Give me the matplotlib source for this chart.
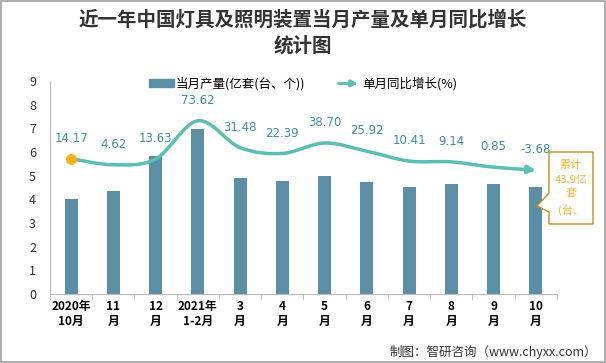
import numpy as np
import matplotlib.pyplot as plt
from matplotlib.path import Path
from matplotlib.patches import FancyArrowPatch, Patch, Rectangle, Polygon
from matplotlib.legend_handler import HandlerBase

plt.rcParams['font.family'] = ['Noto Sans CJK SC', 'DejaVu Sans']

# data
categories = ['2020年\n10月', '11\n月', '12\n月', '2021年\n1-2月', '3\n月', '4\n月',
              '5\n月', '6\n月', '7\n月', '8\n月', '9\n月', '10\n月']
output = [4.03, 4.37, 5.84, 6.97, 4.92, 4.79, 5.00, 4.75, 4.54, 4.66, 4.66, 4.50]
growth = [14.17, 4.62, 13.63, 73.62, 31.48, 22.39, 38.70, 25.92, 10.41, 9.14, 0.85, -3.68]
growth_labels = ['14.17', '4.62', '13.63', '73.62', '31.48', '22.39', '38.70',
                 '25.92', '10.41', '9.14', '0.85', '-3.68']

bar_color = '#5B8FA6'
line_color = '#5CBDB3'
label_color = '#3F8EA3'
W, H = 606, 363


def fx(px):
    return px / W


def fy(py):
    return 1 - py / H


class HandlerArrow(HandlerBase):
    # legend entry drawn as an arrow like the smoothed line
    def create_artists(self, legend, orig_handle, xdescent, ydescent,
                       width, height, fontsize, trans):
        y = height / 2 - ydescent
        p = FancyArrowPatch((-xdescent, y), (width - xdescent, y),
                            arrowstyle='-|>', mutation_scale=9,
                            color=line_color, lw=2.2, transform=trans)
        return [p]


fig = plt.figure(figsize=(6.06, 3.63), dpi=100)
ax = fig.add_axes([0.0825, 0.19, 0.8365, 0.587])
ax2 = ax.twinx()

x = np.arange(len(categories))
ax.bar(x, output, width=0.31, color=bar_color, zorder=2)
ax.set_xlim(-0.5, len(categories) - 0.5)
ax.set_ylim(0, 9)
ax.set_yticks(range(10))
ax.tick_params(axis='y', length=0, labelsize=9, colors='#333333', pad=10)
ax.set_xticks(np.arange(-0.5, len(categories), 1), minor=True)
ax.set_xticks(x)
ax.set_xticklabels(categories, fontsize=8.5, fontweight='bold', linespacing=1.25)
ax.tick_params(axis='x', which='major', length=0, pad=4)
ax.tick_params(axis='x', which='minor', length=4, color='#BBBBBB')
for s in ['top', 'right']:
    ax.spines[s].set_visible(False)
for s in ['left', 'bottom']:
    ax.spines[s].set_color('#BBBBBB')

# secondary axis for growth (hidden)
ax2.set_ylim(-198, 136)
ax2.axis('off')

# smoothed line through the points (Catmull-Rom as cubic Bezier)
pts = np.column_stack([x, growth]).astype(float)
verts = [tuple(pts[0])]
codes = [Path.MOVETO]
n = len(pts)
for i in range(n - 1):
    p0 = pts[max(i - 1, 0)]
    p1 = pts[i]
    p2 = pts[i + 1]
    p3 = pts[min(i + 2, n - 1)]
    c1 = p1 + (p2 - p0) / 6
    c2 = p2 - (p3 - p1) / 6
    verts += [tuple(c1), tuple(c2), tuple(p2)]
    codes += [Path.CURVE4] * 3
arrow = FancyArrowPatch(path=Path(verts, codes), arrowstyle='-|>', mutation_scale=11,
                        color=line_color, lw=2.5, transform=ax2.transData, zorder=3)
ax2.add_patch(arrow)
ax2.plot([x[0]], [growth[0]], 'o', color='#F5B21F', ms=7, zorder=4)

for xi, yi, lab in zip(x, growth, growth_labels):
    ax2.annotate(lab, (xi, yi), xytext=(0, 10), textcoords='offset points',
                 ha='center', va='bottom', fontsize=8.5, color=label_color,
                 family='DejaVu Sans')

# callout box for the last bar, with a notch pointing left at the bar
callout = [(549, 152), (593, 152), (593, 224), (549, 224), (549, 212),
           (537, 206), (549, 193)]
fig.patches.append(Polygon([(fx(a), fy(b)) for a, b in callout], closed=True,
                           transform=fig.transFigure, fc='white', ec='#C0901A',
                           lw=1, zorder=5))
fig.text(fx(571), fy(188), '累计\n43.9亿\n套\n(台、', ha='center', va='center',
         fontsize=8, color='#F5B535', linespacing=1.55, zorder=6)

handles = [Patch(color=bar_color), FancyArrowPatch((0, 0), (1, 1))]
fig.legend(handles, ['当月产量(亿套(台、个))', '单月同比增长(%)'],
           handler_map={FancyArrowPatch: HandlerArrow()},
           loc='center', bbox_to_anchor=(0.5, fy(84)), ncol=2,
           frameon=False, fontsize=9, handlelength=2.0, handletextpad=0.1,
           columnspacing=2.5, handleheight=0.6)

fig.text(0.5, fy(20), '近一年中国灯具及照明装置当月产量及单月同比增长',
         ha='center', va='center', fontsize=14, fontweight='bold', color='#333333')
fig.text(0.5, fy(46), '统计图', ha='center', va='center',
         fontsize=14, fontweight='bold', color='#333333')
fig.text(0.985, fy(352), '制图：智研咨询（www.chyxx.com）', ha='right',
         va='center', fontsize=9, color='#333333')

fig.patches.append(Rectangle((0.001, 0.002), 0.997, 0.995, transform=fig.transFigure,
                             fill=False, ec='#A0A0A0', lw=1.2))

fig.savefig('out.png', dpi=100)
